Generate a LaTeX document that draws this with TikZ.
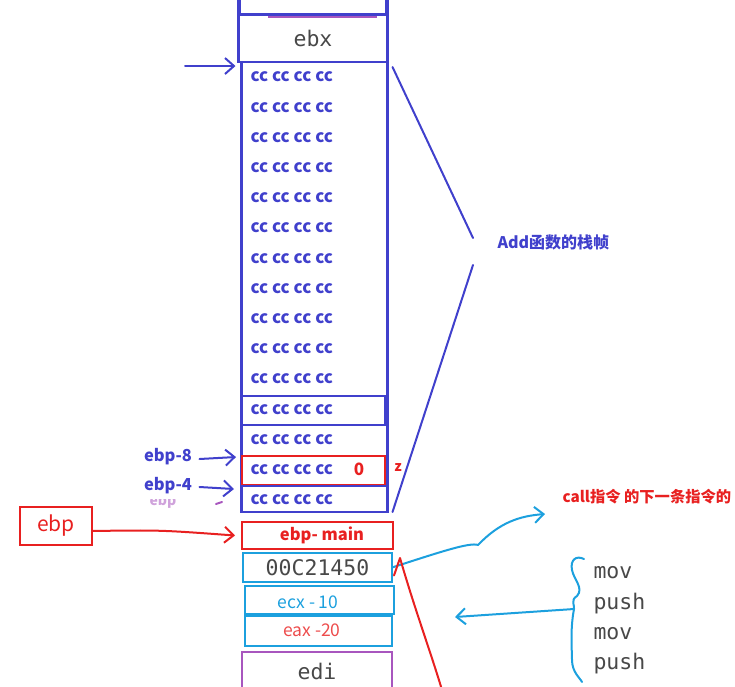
\documentclass[tikz,border=0pt]{standalone}
\usepackage{fontspec}
\setmainfont{Noto Sans CJK SC}
\setmonofont{DejaVu Sans Mono}
\usepackage{xcolor}
\usetikzlibrary{arrows.meta}

\definecolor{stackblue}{RGB}{64,64,204}
\definecolor{markred}{RGB}{232,32,32}
\definecolor{markcyan}{RGB}{28,160,222}
\definecolor{markpurple}{RGB}{168,86,190}
\definecolor{codegray}{RGB}{72,72,72}

\tikzset{
  cell/.style={draw,line width=2.4pt,inner sep=0pt,outer sep=0pt},
  ccrow/.style={anchor=west,text=stackblue,font=\bfseries\fontsize{17}{19}\selectfont},
  mono/.style={text=codegray,font=\ttfamily\fontsize{21.5}{24}\selectfont},
  hand/.style={line width=2pt,line cap=round,line join=round},
}

\begin{document}
\begin{tikzpicture}[x=1pt,y=-1pt,>={Straight Barb[length=9pt,width=16pt,line width=2pt]}]
  \useasboundingbox (0,0) rectangle (735,686);
  \clip (0,0) rectangle (735,686);

  % stack: upper part
  \draw[stackblue,line width=4pt] (239,-4) -- (239,15);
  \draw[stackblue,line width=4pt] (387,-4) -- (387,15);
  \draw[stackblue,line width=2.4pt] (239,14) -- (387,14);
  \draw[markpurple,line width=2.4pt] (268,17) -- (377,17);
  \node[cell,stackblue,minimum width=149pt,minimum height=47pt,mono] (ebx) at (313,38.5) {ebx};
  \node[cell,stackblue,minimum width=146pt,minimum height=450pt] (frame) at (314.5,287) {};
  \foreach \i in {1,...,15}
    \node[ccrow] (r\i) at (247,{77+30.2*(\i-1)}) {cc cc cc cc};
  \node[cell,stackblue,minimum width=143pt,minimum height=29pt] (b12) at (313.5,410.5) {};
  \node[cell,markred,minimum width=143pt,minimum height=29pt] (b14) at (313.5,470.5) {};
  \node[cell,stackblue,minimum width=145pt,minimum height=26pt] (b15) at (314.5,499) {};
  \node[text=markred,font=\bfseries\fontsize{17}{19}\selectfont] (zero) at (359,469) {0};
  \node[text=markred,font=\bfseries\fontsize{14}{16}\selectfont] (zvar) at (398,468) {z};

  % stack: lower part
  \node[cell,markred,minimum width=151pt,minimum height=27pt] (main) at (317.5,535.5) {};
  \node[text=markred,font=\bfseries\fontsize{16.5}{18}\selectfont] (maintxt) at (322,535) {ebp- main};
  \node[cell,markcyan,minimum width=149pt,minimum height=29pt,mono] (ret) at (317.5,567.5) {00C21450};
  \node[cell,markcyan,minimum width=149pt,minimum height=28pt] (ecx) at (319.5,600) {};
  \node[text=markcyan,font=\fontsize{17.5}{19}\selectfont] (ecxtxt) at (308,602) {ecx - 10};
  \node[cell,markcyan,minimum width=147pt,minimum height=30pt] (eax) at (318.5,631) {};
  \node[text=markred!80,font=\fontsize{17.5}{19}\selectfont] (eaxtxt) at (312,630) {eax -20};
  \node[cell,markpurple,minimum width=150pt,minimum height=38pt,mono] (edi) at (317,671) {edi};

  % pointers on the left
  \coordinate (top) at (185,66);
  \draw[stackblue,hand,->] (top) -- ([xshift=-6pt,yshift=-4pt]frame.north west);
  \begin{scope}
    \clip (140,499) rectangle (190,512);
    \node[text=markpurple!55,font=\bfseries\fontsize{14}{16}\selectfont] (oldebp) at (163,501) {ebp};
  \end{scope}
  \node[text=stackblue,font=\bfseries\fontsize{16.5}{18}\selectfont] (ebp8) at (168,457) {ebp-8};
  \node[text=stackblue,font=\bfseries\fontsize{16.5}{18}\selectfont] (ebp4) at (168,486) {ebp-4};
  \draw[stackblue,hand,->] (ebp8.east) ++(4,2) -- ([xshift=-6pt]b14.west |- ebp8);
  \draw[stackblue,hand,->] (ebp4.east) ++(4,1) -- ([xshift=-8pt,yshift=-3pt]b15.north west);
  \draw[markpurple,hand] (216,504) -- (222,502);
  \node[cell,markred,line width=2pt,minimum width=72pt,minimum height=38pt,text=markred,
    font=\fontsize{21}{23}\selectfont] (ebp) at (56,526) {ebp};
  \draw[markred,hand,->] ([yshift=-5pt]ebp.east) .. controls (160,530) .. ([xshift=-7pt]main.west);

  % frame label
  \coordinate (tip1) at (473,238);
  \coordinate (tip2) at (473,265);
  \node[text=stackblue,font=\bfseries\fontsize{16}{18}\selectfont,anchor=west] (add) at (494,242) {Add函数的栈帧};
  \draw[stackblue,hand] ([shift={(5pt,-5pt)}]frame.north east) -- (tip1);
  \draw[stackblue,hand] ([xshift=5pt]frame.south east) -- (tip2);

  % return address
  \node[text=markred,font=\bfseries\fontsize{15.3}{17}\selectfont,anchor=west] (calltxt) at (559,497) {call指令 的下一条指令的};
  \coordinate (callend) at (545,514);
  \draw[markcyan,hand,->] (ret.east) .. controls (440,552) and (470,542) .. (478,545)
    .. controls (500,522) and (520,516) .. (callend);
  \draw[markred,hand] ([xshift=2pt,yshift=-8pt]ret.east) -- (400,558)
    .. controls (415,610) and (430,650) .. (442,690);

  % pushed registers
  \node[mono,anchor=west] (m1) at (590,573) {mov};
  \node[mono,anchor=west] (p1) at (590,604) {push};
  \node[mono,anchor=west] (m2) at (590,634) {mov};
  \node[mono,anchor=west] (p2) at (590,664) {push};
  \coordinate (brace) at (574,609);
  \draw[markcyan,hand] (584,559) .. controls (576,555) and (570,560) .. (572,570)
    .. controls (574,580) and (584,588) .. (577,596)
    .. controls (570,600) and (575,606) .. (brace)
    .. controls (570,630) and (572,650) .. (572,660)
    .. controls (572,672) and (580,678) .. (582,682);
  \draw[markcyan,hand,->] (brace) -- (455,617);
\end{tikzpicture}
\end{document}
